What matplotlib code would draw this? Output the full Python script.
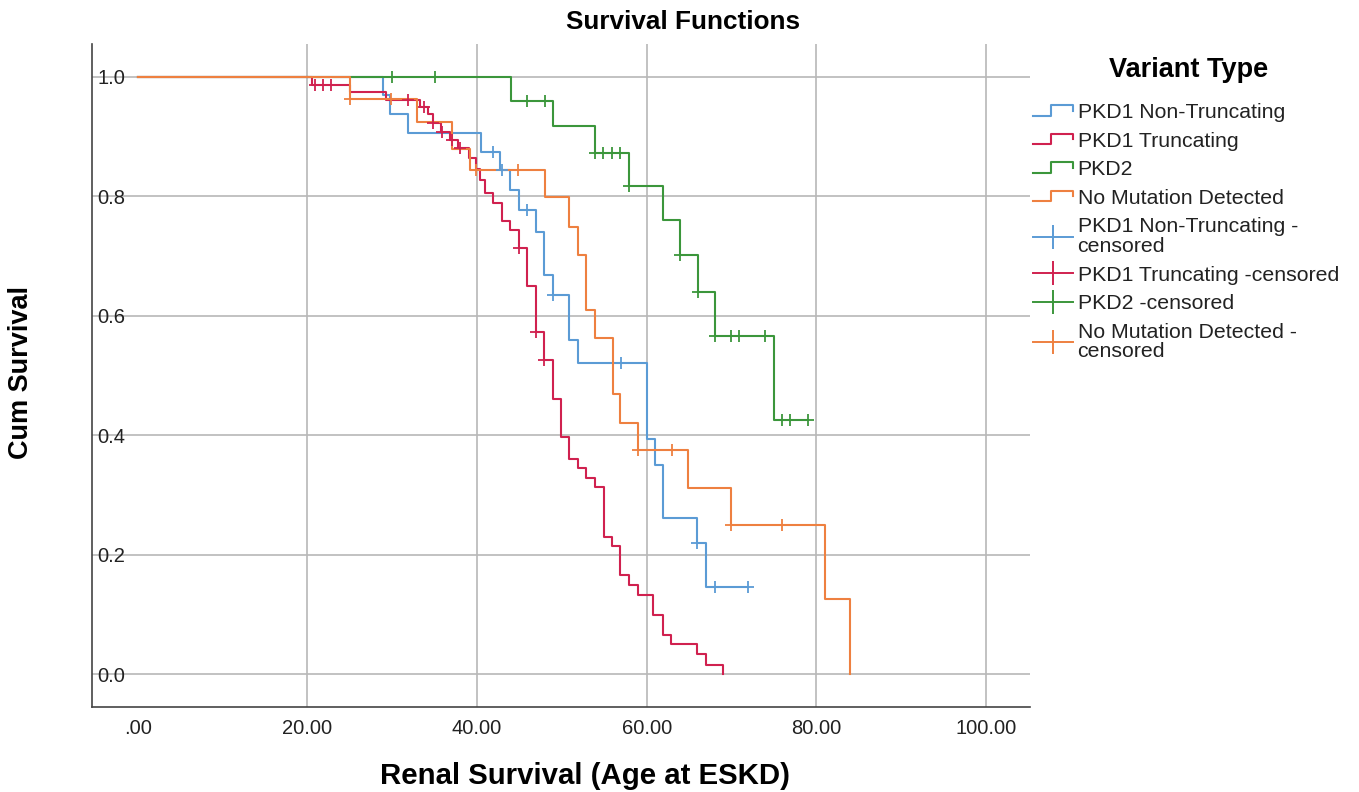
import matplotlib
matplotlib.use("Agg")
import matplotlib.pyplot as plt
from matplotlib.lines import Line2D
from matplotlib.legend_handler import HandlerBase

plt.rcParams['font.family'] = ['Liberation Sans', 'DejaVu Sans']

# Kaplan-Meier steps: event age -> survival after the event
nt_times = [28.9, 29.7, 31.9, 40.5, 42.7, 43.9, 44.9, 46.9, 47.9, 48.9, 50.9, 51.9, 60.0, 61.0, 61.9, 65.9, 67.0]
nt_surv = [0.969, 0.938, 0.906, 0.875, 0.844, 0.811, 0.777, 0.741, 0.668, 0.635, 0.559, 0.521, 0.393, 0.350, 0.261, 0.219, 0.146]
nt_cens_t = [41.9, 43.0, 45.9, 48.9, 57.0, 65.9, 68.0, 72.0]
nt_cens_s = [0.875, 0.844, 0.777, 0.635, 0.521, 0.219, 0.146, 0.146]
nt_end = 72.0

tr_times = [20.5, 25.0, 29.3, 33.3, 34.2, 34.8, 35.8, 36.8, 37.8, 39.0, 39.9, 40.3, 40.9, 41.9, 42.9,
            43.9, 44.9, 45.9, 46.9, 47.9, 48.9, 49.9, 50.9, 51.9, 52.9, 53.9, 55.0, 55.9, 56.9, 57.9,
            59.0, 60.8, 61.9, 62.9, 65.9, 67.0, 69.0]
tr_surv = [0.987, 0.975, 0.962, 0.950, 0.937, 0.922, 0.908, 0.894, 0.881, 0.864, 0.845, 0.827, 0.805, 0.788, 0.758,
           0.744, 0.713, 0.650, 0.573, 0.526, 0.461, 0.397, 0.361, 0.345, 0.329, 0.313, 0.230, 0.214, 0.166, 0.149,
           0.132, 0.099, 0.066, 0.050, 0.033, 0.016, 0.0]
tr_cens_t = [20.9, 21.8, 22.8, 31.9, 33.8, 34.8, 35.9, 37.0, 38.0, 44.9, 46.9, 47.9]
tr_cens_s = [0.987, 0.987, 0.987, 0.962, 0.950, 0.922, 0.908, 0.894, 0.881, 0.713, 0.573, 0.526]
tr_end = 69.0

p2_times = [44.0, 49.0, 53.9, 57.9, 61.9, 63.9, 66.0, 68.0, 75.0]
p2_surv = [0.960, 0.917, 0.873, 0.817, 0.760, 0.702, 0.639, 0.566, 0.425]
p2_cens_t = [30.0, 35.0, 45.9, 48.0, 53.9, 54.9, 55.9, 56.8, 57.9, 63.9, 66.0, 68.0, 70.0, 70.9, 73.9, 76.0, 76.9, 79.0]
p2_cens_s = [1.0, 1.0, 0.960, 0.960, 0.873, 0.873, 0.873, 0.873, 0.817, 0.702, 0.639, 0.566, 0.566, 0.566, 0.566,
             0.425, 0.425, 0.425]
p2_end = 79.0

nm_times = [25.0, 32.9, 37.0, 39.2, 48.0, 50.9, 51.9, 52.9, 53.9, 56.0, 56.9, 59.0, 64.9, 70.0, 81.0, 84.0]
nm_surv = [0.963, 0.924, 0.880, 0.844, 0.799, 0.749, 0.702, 0.610, 0.563, 0.469, 0.421, 0.375, 0.312, 0.250, 0.125, 0.0]
nm_cens_t = [25.0, 29.8, 39.9, 44.8, 59.0, 63.0, 70.0, 76.0]
nm_cens_s = [0.963, 0.963, 0.844, 0.844, 0.375, 0.375, 0.250, 0.250]
nm_end = 84.0

groups = ['PKD1 Non-Truncating', 'PKD1 Truncating', 'PKD2', 'No Mutation Detected']
cens_labels = ['PKD1 Non-Truncating -\ncensored', 'PKD1 Truncating -censored', 'PKD2 -censored',
               'No Mutation Detected -\ncensored']
colors = ['#5b9bd5', '#d0214f', '#3b963b', '#ee8040']

x_ticks = [0, 20, 40, 60, 80, 100]
x_ticklabels = ['.00', '20.00', '40.00', '60.00', '80.00', '100.00']
y_ticks = [0.0, 0.2, 0.4, 0.6, 0.8, 1.0]
y_ticklabels = ['0.0', '0.2', '0.4', '0.6', '0.8', '1.0']


class StepHandler(HandlerBase):
    """legend key drawn as a small step"""
    def create_artists(self, legend, orig_handle, xdescent, ydescent, width, height, fontsize, trans):
        x0, y0 = -xdescent, -ydescent
        xs = [x0, x0 + 0.45 * width, x0 + 0.45 * width, x0 + width, x0 + width]
        ys = [y0 + 0.15 * height, y0 + 0.15 * height, y0 + 0.85 * height, y0 + 0.85 * height, y0 + 0.5 * height]
        line = Line2D(xs, ys, color=orig_handle.get_color(), lw=orig_handle.get_linewidth())
        line.set_transform(trans)
        return [line]


fig = plt.figure(figsize=(13.59, 7.92), dpi=100)
ax = fig.add_axes([92 / 1359, 1 - 707 / 792, (1030 - 92) / 1359, (707 - 44) / 792])

data = [
    (nt_times, nt_surv, nt_cens_t, nt_cens_s, nt_end),
    (tr_times, tr_surv, tr_cens_t, tr_cens_s, tr_end),
    (p2_times, p2_surv, p2_cens_t, p2_cens_s, p2_end),
    (nm_times, nm_surv, nm_cens_t, nm_cens_s, nm_end),
]

curve_handles = []
cens_handles = []
for (times, surv, ct, cs, end), col in zip(data, colors):
    xs = [0.0] + list(times)
    ys = [1.0] + list(surv)
    if end > xs[-1]:
        xs.append(end)
        ys.append(ys[-1])
    h, = ax.step(xs, ys, where='post', color=col, lw=1.5, zorder=3)
    ax.plot(ct, cs, ls='none', marker='+', ms=9, mew=1.3, color=col, zorder=4)
    curve_handles.append(h)
    cens_handles.append(Line2D([], [], color=col, lw=1.4, marker='|', ms=17, mew=1.4))

ax.set_xlim(-5.4, 105.2)
ax.set_ylim(-0.055, 1.055)
ax.set_xticks(x_ticks)
ax.set_xticklabels(x_ticklabels)
ax.set_yticks(y_ticks)
ax.set_yticklabels(y_ticklabels)
ax.tick_params(axis='both', length=0, labelsize=14.5, colors='#222222')
ax.tick_params(axis='x', pad=9)
ax.tick_params(axis='y', pad=-24)

for v in x_ticks[1:]:
    ax.axvline(v, color='#b8b8b8', lw=1.2, zorder=1)
for v in y_ticks:
    ax.axhline(v, color='#b8b8b8', lw=1.2, zorder=1)

for side in ['top', 'right']:
    ax.spines[side].set_visible(False)
for side in ['left', 'bottom']:
    ax.spines[side].set_color('#444444')
    ax.spines[side].set_linewidth(1.2)

ax.set_xlabel('Renal Survival (Age at ESKD)', fontsize=21.2, fontweight='bold', va='center')
ax.xaxis.set_label_coords((585 - 92) / 938, -(776 - 707) / 663)
ax.set_ylabel('Cum Survival', fontsize=19.5, fontweight='bold', va='center', ha='center')
ax.yaxis.set_label_coords((21 - 92) / 938, (707 - 373) / 663)

fig.suptitle('Survival Functions', x=683 / 1359, y=1 - 22 / 792, va='center', fontsize=18.8, fontweight='bold')

fig.text(1189 / 1359, 1 - 70 / 792, 'Variant Type', ha='center', va='center', fontsize=19.5, fontweight='bold')

handles = curve_handles + cens_handles
labels = groups + cens_labels
handler_map = {h: StepHandler() for h in curve_handles}
leg = fig.legend(handles, labels, loc='upper left', bbox_to_anchor=(1033 / 1359, 1 - 103 / 792),
                 frameon=False, fontsize=15.3,
                 handlelength=1.9, handletextpad=0.2, labelspacing=0.45, borderaxespad=0,
                 borderpad=0, handler_map=handler_map)
for t in leg.get_texts():
    t.set_linespacing(1.05)
    t.set_color('#222222')

fig.savefig('out.png', dpi=100)
